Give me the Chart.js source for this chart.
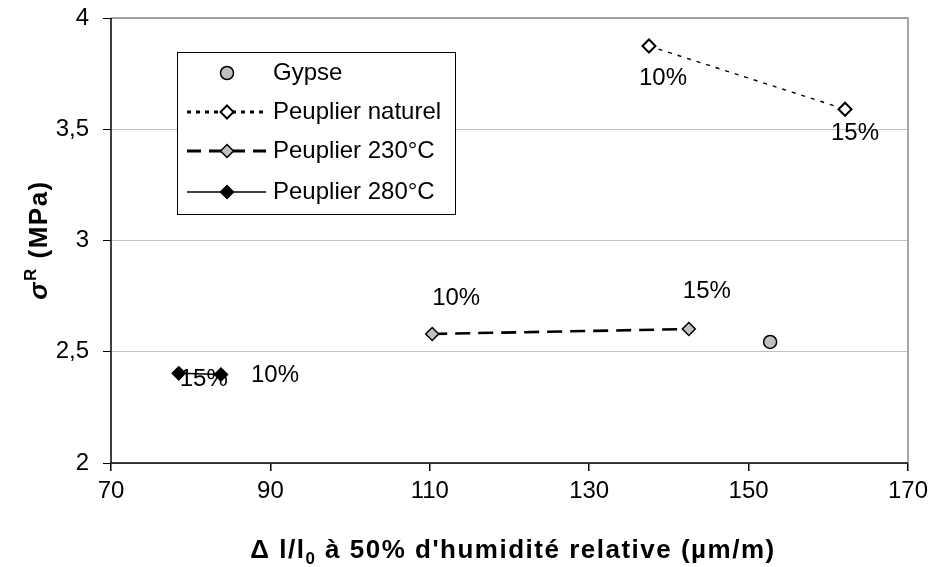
<!DOCTYPE html>
<html>
<head>
<meta charset="utf-8">
<script src="https://cdn.jsdelivr.net/npm/chart.js@4/dist/chart.umd.min.js"></script>
<style>
  html, body { margin: 0; padding: 0; background: #fff; }
  #wrap { width: 935px; height: 567px; }
</style>
</head>
<body>
<div id="wrap"><canvas id="chart" width="935" height="567"></canvas></div>
<script>
// values
const seriesNames = ['Gypse', 'Peuplier naturel', 'Peuplier 230°C', 'Peuplier 280°C'];
const gypseX = [152.7];
const gypseY = [2.544];
const naturelX = [137.5, 162.1];
const naturelY = [3.874, 3.59];
const p230X = [110.3, 142.5];
const p230Y = [2.58, 2.602];
const p280X = [78.5, 83.8];
const p280Y = [2.403, 2.398];
const naturelLabels = ['10%', '15%'];
const p230Labels = ['10%', '15%'];
const p280Labels = ['15%', '10%'];
const xTicks = [70, 90, 110, 130, 150, 170];
const yTicks = [2, 2.5, 3, 3.5, 4];

const FONT = '"Liberation Sans", Arial, sans-serif';
const TXT = 24;

function pts(xs, ys) {
  return xs.map((x, i) => ({ x, y: ys[i] }));
}

// label offsets (px) relative to each point, per dataset index
const labelOffsets = {
  1: [[14, 32], [10, 24]],
  2: [[24, -36], [18, -38]],
  3: [[25, 6], [54, 1]]
};
const labelTexts = { 1: naturelLabels, 2: p230Labels, 3: p280Labels };

const pointLabels = {
  id: 'pointLabels',
  afterDatasetsDraw(chart) {
    const ctx = chart.ctx;
    ctx.save();
    ctx.font = TXT + 'px ' + FONT;
    ctx.fillStyle = '#000';
    ctx.textAlign = 'center';
    ctx.textBaseline = 'middle';
    Object.keys(labelTexts).forEach((k) => {
      const meta = chart.getDatasetMeta(+k);
      meta.data.forEach((el, i) => {
        const off = labelOffsets[k][i];
        ctx.fillText(labelTexts[k][i], el.x + off[0], el.y + off[1]);
      });
    });
    ctx.restore();
  }
};

function drawRuns(ctx, parts, cx, baseY) {
  let w = 0;
  parts.forEach((p) => { ctx.font = p[1]; w += ctx.measureText(p[0]).width; });
  let x = cx - w / 2;
  parts.forEach((p) => {
    ctx.font = p[1];
    ctx.fillText(p[0], x, baseY + p[2]);
    x += ctx.measureText(p[0]).width;
  });
}

const frameAndTitles = {
  id: 'frameAndTitles',
  beforeDatasetsDraw(chart) {
    const { ctx, chartArea: a } = chart;
    ctx.save();
    ctx.strokeStyle = '#8a8a8a';
    ctx.lineWidth = 1.5;
    ctx.beginPath();
    ctx.moveTo(a.left, a.top);
    ctx.lineTo(a.right, a.top);
    ctx.lineTo(a.right, a.bottom);
    ctx.stroke();
    ctx.strokeStyle = '#000';
    ctx.beginPath();
    ctx.moveTo(a.left, a.top);
    ctx.lineTo(a.left, a.bottom);
    ctx.lineTo(a.right, a.bottom);
    ctx.stroke();
    ctx.restore();
  },
  afterDraw(chart) {
    const ctx = chart.ctx;
    ctx.save();
    ctx.fillStyle = '#000';
    ctx.textBaseline = 'alphabetic';
    ctx.letterSpacing = '1.5px';
    const big = 'bold 26px ' + FONT;
    const small = 'bold 17px ' + FONT;
    drawRuns(ctx, [
      ['Δ l/l', big, 0],
      ['0', small, 6],
      [' à 50% d\'humidité relative (µm/m)', big, 0]
    ], 513, 558);
    ctx.translate(47, 240);
    ctx.rotate(-Math.PI / 2);
    drawRuns(ctx, [
      ['σ', 'italic bold 26px ' + FONT, 0],
      ['R', small, -11],
      [' (MPa)', big, 0]
    ], 0, 0);
    ctx.restore();
  }
};

const boxLegend = {
  id: 'boxLegend',
  afterDraw(chart) {
    const ctx = chart.ctx;
    const left = 177, top = 52, right = 455, bottom = 214;
    const rows = [73, 112, 151, 192];
    const sampleWidth = [0, 3, 3.2, 1.5];
    const sampleDash = [[], [4, 5], [14, 8], []];
    ctx.save();
    ctx.fillStyle = '#fff';
    ctx.fillRect(left, top, right - left, bottom - top);
    ctx.strokeStyle = '#000';
    ctx.lineWidth = 1;
    ctx.strokeRect(left + 0.5, top + 0.5, right - left, bottom - top);
    chart.data.datasets.forEach((ds, i) => {
      const y = rows[i];
      if (ds.showLine) {
        ctx.save();
        ctx.strokeStyle = ds.borderColor;
        ctx.lineWidth = sampleWidth[i];
        ctx.setLineDash(sampleDash[i]);
        ctx.beginPath();
        ctx.moveTo(187, y);
        ctx.lineTo(266, y);
        ctx.stroke();
        ctx.restore();
      }
      ctx.save();
      ctx.fillStyle = ds.pointBackgroundColor;
      ctx.strokeStyle = ds.pointBorderColor;
      ctx.lineWidth = ds.pointBorderWidth;
      Chart.helpers.drawPoint(ctx, {
        pointStyle: ds.pointStyle,
        radius: ds.pointRadius,
        rotation: 0,
        borderWidth: ds.pointBorderWidth
      }, 227, y);
      ctx.restore();
      ctx.fillStyle = '#000';
      ctx.font = TXT + 'px ' + FONT;
      ctx.textBaseline = 'middle';
      ctx.textAlign = 'left';
      ctx.fillText(ds.label, 273, y);
    });
    ctx.restore();
  }
};

function noPadding(s) {
  s.paddingTop = 0;
  s.paddingBottom = 0;
  s.paddingLeft = 0;
  s.paddingRight = 0;
}

new Chart(document.getElementById('chart'), {
  type: 'scatter',
  data: {
    datasets: [
      {
        label: seriesNames[0],
        data: pts(gypseX, gypseY),
        showLine: false,
        pointStyle: 'circle',
        pointRadius: 6.5,
        pointBackgroundColor: '#c0c0c0',
        pointBorderColor: '#000',
        pointBorderWidth: 1.5
      },
      {
        label: seriesNames[1],
        data: pts(naturelX, naturelY),
        showLine: true,
        borderColor: '#000',
        borderWidth: 1.4,
        borderDash: [4, 6],
        pointStyle: 'rectRot',
        pointRadius: 6.5,
        pointBackgroundColor: '#fff',
        pointBorderColor: '#000',
        pointBorderWidth: 2
      },
      {
        label: seriesNames[2],
        data: pts(p230X, p230Y),
        showLine: true,
        borderColor: '#000',
        borderWidth: 2.6,
        borderDash: [15, 8],
        pointStyle: 'rectRot',
        pointRadius: 6.5,
        pointBackgroundColor: '#c0c0c0',
        pointBorderColor: '#000',
        pointBorderWidth: 1.5
      },
      {
        label: seriesNames[3],
        data: pts(p280X, p280Y),
        showLine: true,
        borderColor: '#000',
        borderWidth: 1.5,
        pointStyle: 'rectRot',
        pointRadius: 6.5,
        pointBackgroundColor: '#000',
        pointBorderColor: '#000',
        pointBorderWidth: 1.5
      }
    ]
  },
  options: {
    responsive: false,
    animation: false,
    layout: { autoPadding: false, padding: { left: 0, right: 27, top: 18, bottom: 0 } },
    plugins: { legend: { display: false }, tooltip: { enabled: false } },
    scales: {
      x: {
        type: 'linear',
        min: xTicks[0],
        max: xTicks[xTicks.length - 1],
        afterBuildTicks: (s) => { s.ticks = xTicks.map((v) => ({ value: v })); },
        afterFit: (s) => { s.height = 104; noPadding(s); },
        border: { display: false },
        grid: { drawOnChartArea: false, tickLength: 8, tickColor: '#000', lineWidth: 1.5 },
        ticks: { color: '#000', font: { family: FONT, size: TXT }, padding: 6, maxRotation: 0 }
      },
      y: {
        type: 'linear',
        min: yTicks[0],
        max: yTicks[yTicks.length - 1],
        afterBuildTicks: (s) => { s.ticks = yTicks.map((v) => ({ value: v })); },
        afterFit: (s) => { s.width = 111; noPadding(s); },
        border: { display: false },
        grid: { color: '#c0c0c0', lineWidth: 1, tickLength: 8, tickColor: '#000' },
        ticks: {
          color: '#000',
          font: { family: FONT, size: TXT },
          padding: 14,
          callback: (v) => String(v).replace('.', ',')
        }
      }
    }
  },
  plugins: [frameAndTitles, pointLabels, boxLegend]
});
</script>
</body>
</html>
